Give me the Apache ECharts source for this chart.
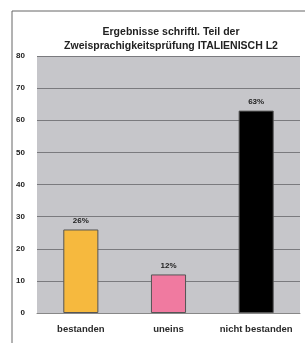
<!DOCTYPE html>
<html>
<head>
<meta charset="utf-8">
<script src="https://cdn.jsdelivr.net/npm/echarts@6/dist/echarts.min.js"></script>
<style>
  html, body { margin: 0; padding: 0; background: #fff; }
  #chart { width: 305px; height: 343px; }
</style>
</head>
<body>
<div id="chart"></div>
<script>
// Daten
const categories = ['bestanden', 'uneins', 'nicht bestanden']
const values = [26, 12, 63]
const barColors = ['#f6b93e', '#f07aa0', '#000000']
const yTicks = [0, 10, 20, 30, 40, 50, 60, 70, 80]

const chart = echarts.init(document.getElementById('chart'))
chart.setOption({
  animation: false,
  backgroundColor: '#ffffff',
  title: {
    text: 'Ergebnisse schriftl. Teil der\nZweisprachigkeitsprüfung ITALIENISCH L2',
    left: 166,
    textAlign: 'center',
    top: 20,
    textStyle: {
      fontFamily: 'Liberation Sans',
      fontSize: 10.5,
      fontWeight: 'bold',
      color: '#222',
      lineHeight: 14
    }
  },
  graphic: [{
    type: 'rect',
    shape: { x: 12, y: 11, width: 300, height: 340 },
    style: { fill: 'none', stroke: '#666', lineWidth: 1 },
    z: -1
  }],
  grid: {
    left: 37, right: 5, top: 56, bottom: 30,
    show: true,
    backgroundColor: '#c6c6ca',
    borderWidth: 0
  },
  xAxis: {
    type: 'category',
    data: categories,
    axisTick: { show: false },
    axisLine: { lineStyle: { color: '#888' } },
    axisLabel: {
      interval: 0,
      hideOverlap: false,
      margin: 11,
      fontFamily: 'Liberation Sans',
      fontSize: 9.5,
      fontWeight: 'bold',
      color: '#2a2a2a'
    }
  },
  yAxis: {
    type: 'value',
    min: yTicks[0],
    max: yTicks[yTicks.length - 1],
    interval: 10,
    axisLine: { show: false },
    axisTick: { show: false },
    splitLine: { lineStyle: { color: '#7a7a7e', width: 1 } },
    axisLabel: {
      margin: 12,
      fontFamily: 'Liberation Sans',
      fontSize: 8,
      fontWeight: 'bold',
      color: '#222'
    }
  },
  series: [{
    type: 'bar',
    barWidth: '40%',
    data: values.map((v, i) => ({
      value: v,
      itemStyle: { color: barColors[i], borderColor: '#555', borderWidth: 1 }
    })),
    label: {
      show: true,
      position: 'top',
      distance: 5,
      formatter: p => p.value + '%',
      fontFamily: 'Liberation Sans',
      fontSize: 8,
      fontWeight: 'bold',
      color: '#222'
    }
  }]
})
</script>
</body>
</html>
